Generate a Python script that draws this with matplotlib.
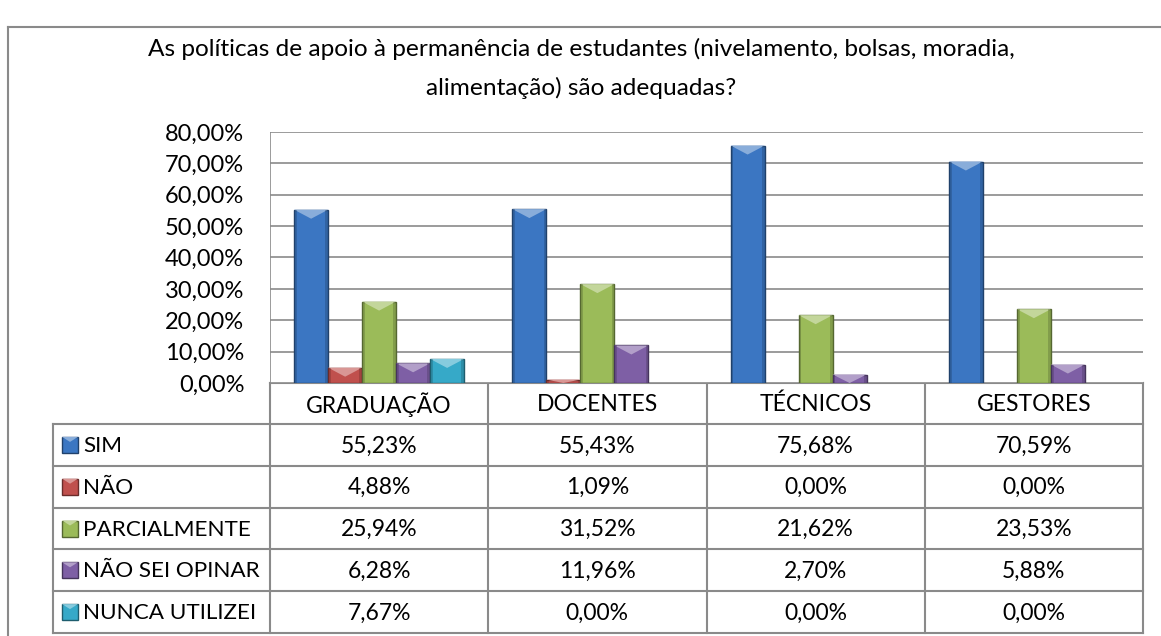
import matplotlib.pyplot as plt
import matplotlib.colors as mcolors
from matplotlib.patches import Polygon, Rectangle
import numpy as np

plt.rcParams['font.family'] = ['Lato', 'DejaVu Sans']

title = "As políticas de apoio à permanência de estudantes (nivelamento, bolsas, moradia,\nalimentação) são adequadas?"
categories = ["GRADUAÇÃO", "DOCENTES", "TÉCNICOS", "GESTORES"]
series = ["SIM", "NÃO", "PARCIALMENTE", "NÃO SEI OPINAR", "NUNCA UTILIZEI"]
sim = [55.23, 55.43, 75.68, 70.59]
nao = [4.88, 1.09, 0.00, 0.00]
parcial = [25.94, 31.52, 21.62, 23.53]
nao_sei = [6.28, 11.96, 2.70, 5.88]
nunca = [7.67, 0.00, 0.00, 0.00]
values = [sim, nao, parcial, nao_sei, nunca]
yticks = [0, 10, 20, 30, 40, 50, 60, 70, 80]

colors = ["#3b76c2", "#c0504d", "#9bbb59", "#7e5fa5", "#36a9c8"]
grid_c = "#8a8a8a"

W, H = 1161, 636
fig = plt.figure(figsize=(W / 100, H / 100), dpi=100)

# pixel layout
px_l, px_r, px_t, px_b = 270, 1143, 132, 383
ax = fig.add_axes([px_l / W, 1 - px_b / H, (px_r - px_l) / W, (px_b - px_t) / H])
ax.set_xlim(-0.5, len(categories) - 0.5)
ax.set_ylim(0, 80)
for s in ax.spines.values():
    s.set_visible(False)
ax.set_xticks([])
ax.set_yticks(yticks)
ax.set_yticklabels([f"{v:.2f}%".replace(".", ",") for v in yticks], fontsize=17)
ax.tick_params(axis='y', length=0, pad=18.5)
for v in yticks:
    ax.axhline(v, color=grid_c, lw=1.2, zorder=0)
ax.axvline(-0.5, color=grid_c, lw=1.2, zorder=0)

bw = 34 / ((px_r - px_l) / len(categories))
px_per_unit = (px_b - px_t) / 80.0
bev = 9 / px_per_unit
x = np.arange(len(categories))
for k, vals in enumerate(values):
    c = np.array(mcolors.to_rgb(colors[k]))
    light = c + (1 - c) * 0.4
    dark = c * 0.55
    xs = x + (k - 2) * bw
    lws = [1.0 if v > 0 else 0 for v in vals]
    ax.bar(xs, vals, width=bw, color=colors[k], edgecolor=dark, linewidth=lws, zorder=2)
    for xi, v in zip(xs, vals):
        if v <= 0:
            continue
        d = min(bev, v)
        x0, x1 = xi - bw / 2, xi + bw / 2
        ax.add_patch(Polygon([(x0, v), (x1, v), (xi, v - d)], closed=True,
                             facecolor=light, edgecolor='none', zorder=3))
        # darker side strips
        ax.add_patch(Rectangle((x0, 0), bw * 0.08, v, facecolor=dark, alpha=0.35,
                               edgecolor='none', zorder=3))
        ax.add_patch(Rectangle((x1 - bw * 0.08, 0), bw * 0.08, v, facecolor=dark, alpha=0.35,
                               edgecolor='none', zorder=3))

# overlay in pixel coordinates for frame, title and data table
ov = fig.add_axes([0, 0, 1, 1], zorder=-1)
ov.set_xlim(0, W)
ov.set_ylim(H, 0)
ov.axis('off')

ov.plot([8, W + 5], [27, 27], color=grid_c, lw=1.5)
ov.plot([8, 8], [27, H + 5], color=grid_c, lw=1.5)

for j, line in enumerate(title.split("\n")):
    ov.text(581, 49 + 39 * j, line, ha='center', va='center', fontsize=17.6)

tab_l = 53
col_edges = np.linspace(px_l, px_r, len(categories) + 1)
row_edges = np.linspace(424, 633, len(series) + 1)
hdr_t = px_b

lkw = dict(color=grid_c, lw=1.5)
# header row (category columns only)
ov.plot([px_l, px_r], [hdr_t, hdr_t], **lkw)
for xe in col_edges:
    ov.plot([xe, xe], [hdr_t, row_edges[-1]], **lkw)
for ye in row_edges:
    ov.plot([tab_l, px_r], [ye, ye], **lkw)
ov.plot([tab_l, tab_l], [row_edges[0], row_edges[-1]], **lkw)

for i, cat in enumerate(categories):
    ov.text((col_edges[i] + col_edges[i + 1]) / 2, (hdr_t + row_edges[0]) / 2 + 1, cat,
            ha='center', va='center', fontsize=16.5)

for k, name in enumerate(series):
    yc = (row_edges[k] + row_edges[k + 1]) / 2
    c = np.array(mcolors.to_rgb(colors[k]))
    ov.add_patch(Rectangle((62, yc - 8), 16, 16, facecolor=colors[k], edgecolor=c * 0.55, lw=1))
    ov.add_patch(Polygon([(62, yc - 8), (78, yc - 8), (70, yc - 3)], closed=True,
                         facecolor=c + (1 - c) * 0.4, edgecolor='none'))
    ov.text(83, yc + 1, name, ha='left', va='center', fontsize=16.2)
    for i in range(len(categories)):
        ov.text((col_edges[i] + col_edges[i + 1]) / 2, yc + 1,
                f"{values[k][i]:.2f}%".replace(".", ","),
                ha='center', va='center', fontsize=16.5)

fig.savefig("out.png", dpi=100, facecolor='white')
